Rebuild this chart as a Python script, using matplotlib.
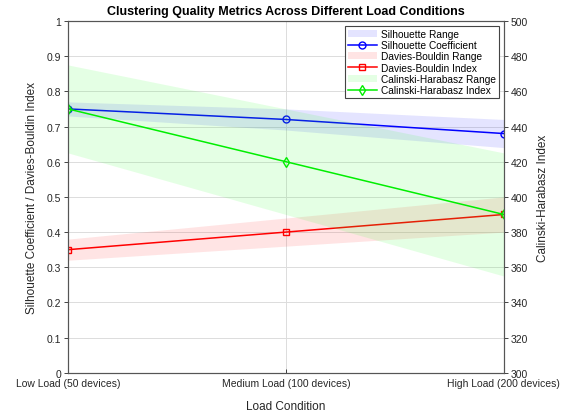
import matplotlib.pyplot as plt

plt.rcParams['font.family'] = ['Liberation Sans', 'DejaVu Sans']

# data
loads = ['Low Load (50 devices)', 'Medium Load (100 devices)', 'High Load (200 devices)']
silhouette = [0.75, 0.72, 0.68]
silhouette_std = [0.02, 0.03, 0.04]
davies = [0.35, 0.40, 0.45]
davies_std = [0.03, 0.04, 0.05]
calinski = [450, 420, 390]
calinski_std = [25, 30, 35]

x = list(range(len(loads)))

fig = plt.figure(figsize=(5.69, 4.14), dpi=100)
ax = fig.add_axes([0.1195, 0.097, 0.766, 0.850])
ax2 = ax.twinx()

lo = [m - s for m, s in zip(silhouette, silhouette_std)]
hi = [m + s for m, s in zip(silhouette, silhouette_std)]
h1 = ax.fill_between(x, lo, hi, color=(0.2, 0.2, 1.0), alpha=0.13, lw=0, label='Silhouette Range')
l1, = ax.plot(x, silhouette, '-o', color='#0000ff', mfc='none', ms=5, lw=1.1, label='Silhouette Coefficient')

lo = [m - s for m, s in zip(davies, davies_std)]
hi = [m + s for m, s in zip(davies, davies_std)]
h2 = ax.fill_between(x, lo, hi, color=(1.0, 0.2, 0.2), alpha=0.13, lw=0, label='Davies-Bouldin Range')
l2, = ax.plot(x, davies, '-s', color='#ff0000', mfc='none', ms=4.5, lw=1.1, label='Davies-Bouldin Index')

lo = [m - s for m, s in zip(calinski, calinski_std)]
hi = [m + s for m, s in zip(calinski, calinski_std)]
h3 = ax2.fill_between(x, lo, hi, color=(0.2, 1.0, 0.2), alpha=0.13, lw=0, label='Calinski-Harabasz Range')
l3, = ax2.plot(x, calinski, '-d', color='#00ee00', mfc='none', ms=5, lw=1.1, label='Calinski-Harabasz Index')

ax.set_xlim(0, 2)
ax.set_ylim(0, 1)
ax.set_yticks([i / 10 for i in range(11)])
ax.set_yticklabels(['0', '0.1', '0.2', '0.3', '0.4', '0.5', '0.6', '0.7', '0.8', '0.9', '1'])
ax2.set_ylim(300, 500)
ax2.set_yticks(range(300, 501, 20))
ax.set_xticks(x)
ax.set_xticklabels(loads)

ax.grid(True, color='#dcdcdc', lw=0.7)
ax.set_axisbelow(True)

for a in (ax, ax2):
    for sp in a.spines.values():
        sp.set_color('#555555')
        sp.set_linewidth(0.8)
    a.tick_params(labelsize=7.5, colors='#262626', direction='out', length=3, width=0.6, pad=2)
ax.tick_params(axis='x', direction='in', pad=4)

ax.set_xlabel('Load Condition', fontsize=8.5, color='#262626', labelpad=8)
ax.set_ylabel('Silhouette Coefficient / Davies-Bouldin Index', fontsize=8.5, color='#262626', labelpad=6)
ax2.set_ylabel('Calinski-Harabasz Index', fontsize=8.5, color='#262626', labelpad=6)
ax.set_title('Clustering Quality Metrics Across Different Load Conditions',
             fontsize=9, fontweight='bold', pad=5)

leg = ax2.legend([h1, l1, h2, l2, h3, l3],
                 [h.get_label() for h in (h1, l1, h2, l2, h3, l3)],
                 loc='upper right', fontsize=7.3, frameon=True, fancybox=False,
                 borderpad=0.3, labelspacing=0.12, handlelength=2.8,
                 handletextpad=0.4, borderaxespad=0.5, framealpha=1)
leg.get_frame().set_edgecolor('#444444')
leg.get_frame().set_linewidth(0.8)

fig.savefig('out.png', dpi=100)
